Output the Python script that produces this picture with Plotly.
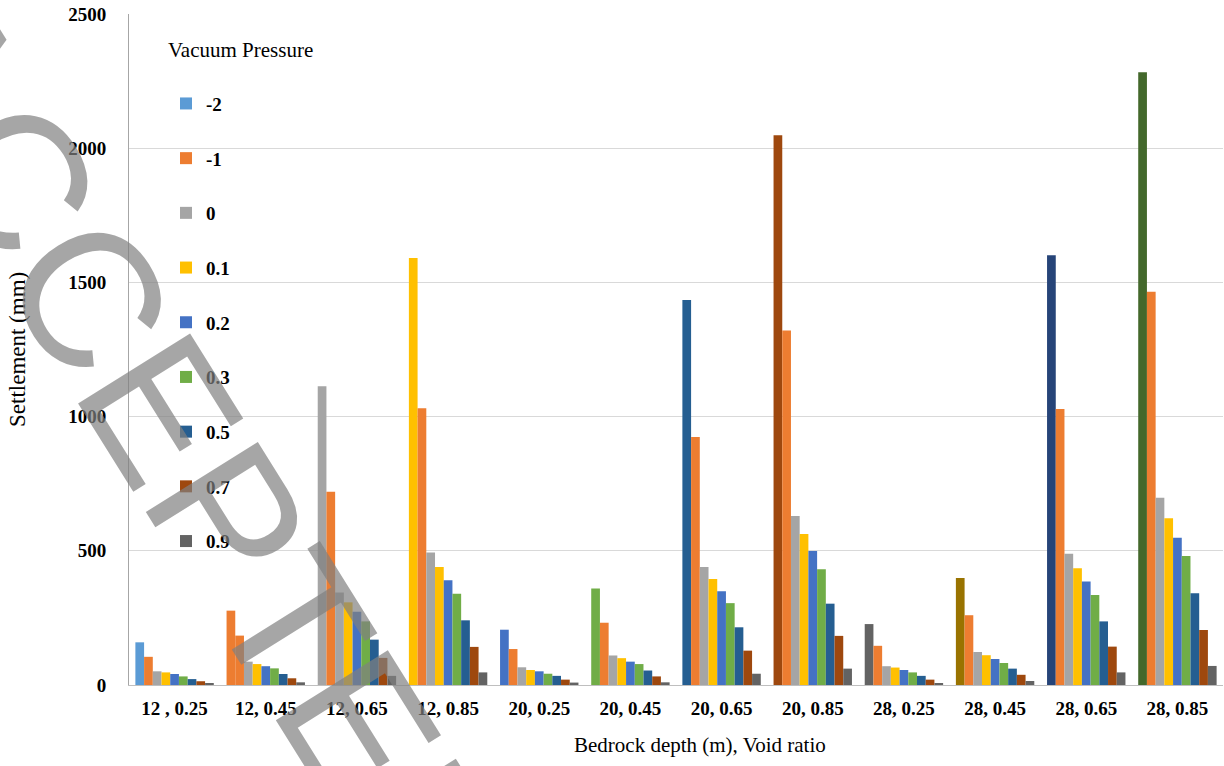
import plotly.graph_objects as go

categories = ["12 , 0.25", "12, 0.45", "12, 0.65", "12, 0.85",
              "20, 0.25", "20, 0.45", "20, 0.65", "20, 0.85",
              "28, 0.25", "28, 0.45", "28, 0.65", "28, 0.85"]

series_names = ["-2", "-1", "0", "0.1", "0.2", "0.3", "0.5", "0.7", "0.9"]

vp_m2 = [159, 277, 1113, 1591, 206, 360, 1434, 2048, 227, 399, 1601, 2283]
vp_m1 = [105, 184, 720, 1031, 134, 232, 924, 1321, 146, 260, 1028, 1465]
vp_0 = [51, 87, 345, 494, 66, 110, 440, 630, 70, 123, 489, 698]
vp_01 = [47, 78, 308, 440, 56, 100, 395, 563, 65, 111, 435, 621]
vp_02 = [41, 70, 273, 390, 51, 87, 349, 499, 56, 97, 386, 549]
vp_03 = [32, 62, 237, 340, 42, 78, 305, 431, 47, 82, 335, 481]
vp_05 = [22, 41, 169, 241, 34, 54, 215, 303, 34, 61, 237, 342]
vp_07 = [14, 25, 101, 142, 20, 32, 128, 183, 20, 38, 143, 205]
vp_09 = [6, 10, 34, 47, 9, 10, 42, 61, 7, 15, 47, 71]

series_values = [vp_m2, vp_m1, vp_0, vp_01, vp_02, vp_03, vp_05, vp_07, vp_09]

# Excel "vary colors by point" palette used for the first series
point_colors = ["#5B9BD5", "#ED7D31", "#A5A5A5", "#FFC000", "#4472C4", "#70AD47",
                "#255E91", "#9E480E", "#636363", "#997300", "#264478", "#43682B"]
series_colors = [point_colors, "#ED7D31", "#A5A5A5", "#FFC000", "#4472C4",
                 "#70AD47", "#255E91", "#9E480E", "#636363"]

SERIF = "Liberation Serif"

fig = go.Figure()
for i, (name, vals, col) in enumerate(zip(series_names, series_values, series_colors)):
    fig.add_trace(go.Bar(
        x=categories, y=vals, name=name,
        marker=dict(color=col, line=dict(width=0)),
        legendgroup="g%d" % i,
    ))

L, R, T, B = 129, 1, 14, 81
W, H = 1224, 766
pw = W - L - R
ph = H - T - B

def px_x(x):
    return (x - L) / pw

def px_y(y):
    return (H - B - y) / ph

fig.update_layout(
    width=W, height=H,
    margin=dict(l=L, r=R, t=T, b=B),
    paper_bgcolor="white", plot_bgcolor="white",
    barmode="group", bargap=0.14, bargroupgap=0,
    font=dict(family=SERIF, color="black"),
    xaxis=dict(
        type="category", showgrid=False, showline=True, linecolor="#BFBFBF",
        linewidth=1, ticks="", tickfont=dict(size=19, family=SERIF, color="black", weight="bold"),
        ticklabelstandoff=6,
    ),
    yaxis=dict(
        range=[0, 2500], dtick=500, showgrid=True, gridcolor="#D9D9D9", gridwidth=1,
        showline=True, linecolor="#A6A6A6", linewidth=1, zeroline=False, ticks="",
        tickfont=dict(size=19, family=SERIF, color="black", weight="bold"),
        ticklabelstandoff=18,
    ),
    legend=dict(
        x=px_x(166), y=px_y(30), xanchor="left", yanchor="top",
        bgcolor="rgba(0,0,0,0)",
        font=dict(size=19, family=SERIF, color="black", weight="bold"),
        title=dict(text="Vacuum Pressure<br>&nbsp;",
                   font=dict(size=21, family=SERIF, color="black", weight="normal")),
        tracegroupgap=27, itemwidth=30,
    ),
    annotations=[
        dict(text="Settlement (mm)", xref="paper", yref="paper",
             x=px_x(18), y=px_y(350), textangle=-90, showarrow=False,
             font=dict(size=23, family=SERIF, color="black"),
             xanchor="center", yanchor="middle"),
        dict(text="Bedrock depth (m), Void ratio", xref="paper", yref="paper",
             x=px_x(700), y=px_y(745), showarrow=False,
             font=dict(size=21, family=SERIF, color="black"),
             xanchor="center", yanchor="middle"),
        dict(text="ACCEPTED", xref="paper", yref="paper",
             x=px_x(188), y=px_y(455), textangle=58, showarrow=False,
             font=dict(size=192, family="Liberation Sans", color="rgba(128,128,128,0.7)"),
             xanchor="center", yanchor="middle"),
    ],
)

fig.write_html("out.html", config={"displayModeBar": False},
               post_script="document.body.style.margin='0';document.body.style.overflow='hidden';")
